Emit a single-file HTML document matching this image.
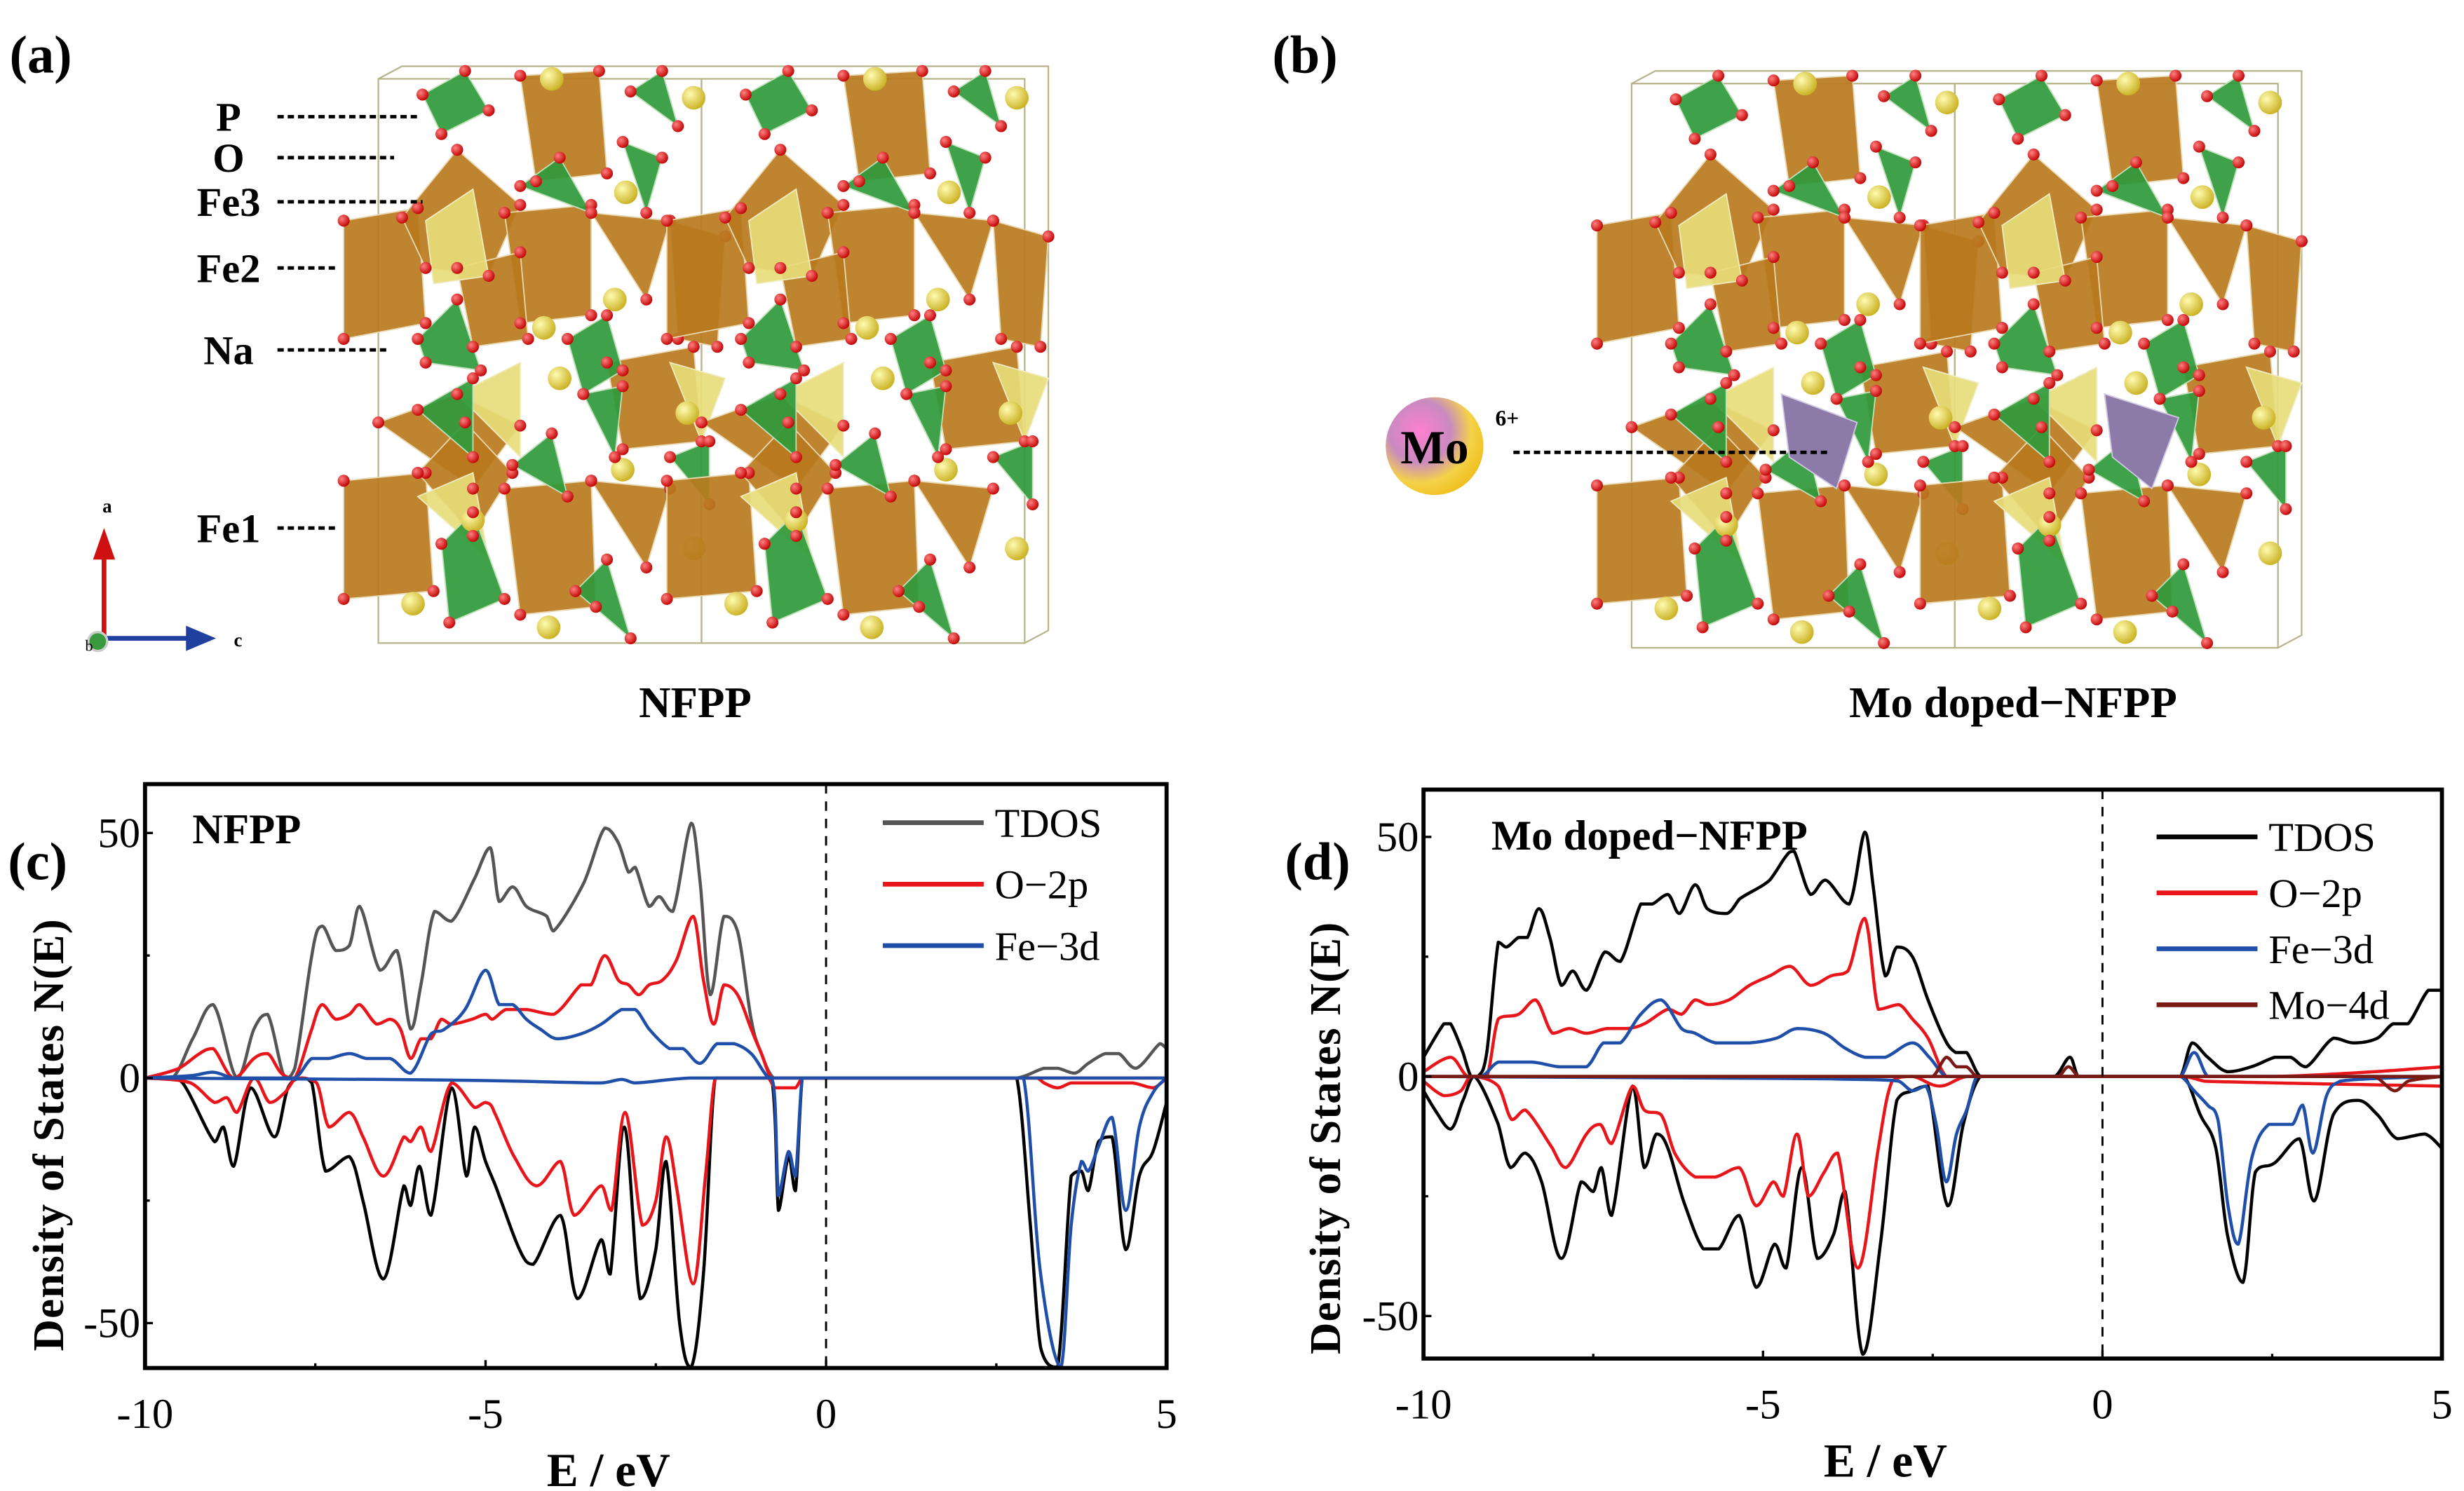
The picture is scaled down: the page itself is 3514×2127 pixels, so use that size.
<!DOCTYPE html>
<html><head><meta charset="utf-8"><style>
html,body{margin:0;padding:0;background:#fff}
svg{display:block}
text{font-family:"Liberation Serif",serif}
</style></head><body>
<svg id="fig" width="3514" height="2127" viewBox="0 0 1563 946" xmlns="http://www.w3.org/2000/svg">
<defs>
<radialGradient id="mo" cx="35%" cy="35%" r="70%"><stop offset="0" stop-color="#ff7fd0"/><stop offset="0.45" stop-color="#c98ac0"/><stop offset="0.75" stop-color="#f5d24a"/><stop offset="1" stop-color="#f0c020"/></radialGradient>
<radialGradient id="na" cx="35%" cy="35%" r="70%"><stop offset="0" stop-color="#fffbb0"/><stop offset="1" stop-color="#c9b020"/></radialGradient>
<radialGradient id="ox" cx="35%" cy="35%" r="70%"><stop offset="0" stop-color="#ff8080"/><stop offset="1" stop-color="#c00000"/></radialGradient>
</defs>
<g id="panelA"></g>
<g id="panelB"></g>
<g id="chartC"></g>
<g id="chartD"></g>
</svg>
<script>
// ---------- DOS data (E in eV, N(E)) ----------
const cTdosUp=[[-10,0],[-9.6,0],[-9.3,8],[-9.0,15],[-8.65,0],[-8.4,10],[-8.2,13],[-7.95,0],[-7.8,2],[-7.55,25],[-7.4,31],[-7.2,26],[-7.0,27],[-6.85,35],[-6.55,22],[-6.3,26],[-6.1,10],[-5.95,19],[-5.75,34],[-5.5,32],[-5.15,41],[-4.93,47],[-4.8,36],[-4.6,39],[-4.4,35],[-4.1,33],[-4.0,30],[-3.55,40],[-3.25,51],[-3.05,48],[-2.9,42],[-2.8,43],[-2.6,35],[-2.45,37],[-2.25,34],[-1.98,52],[-1.85,40],[-1.7,17],[-1.5,33],[-1.3,30],[-1.1,12],[-0.95,5],[-0.77,0],[2.8,0],[3.2,2],[3.4,2],[3.65,1],[3.85,3],[4.1,5],[4.3,5],[4.55,2],[4.9,7],[5,6]];
const cTdosDn=[[-10,0],[-9.6,0],[-9.4,-2],[-8.98,-13],[-8.85,-10],[-8.7,-18],[-8.45,-2],[-8.1,-12],[-7.9,-2],[-7.7,0],[-7.55,-1],[-7.35,-19],[-7.0,-16],[-6.8,-25],[-6.5,-41],[-6.2,-22],[-6.1,-26],[-5.97,-18],[-5.8,-28],[-5.5,-2],[-5.28,-20],[-5.16,-10],[-5.0,-17],[-4.8,-24],[-4.5,-35],[-4.3,-38],[-3.9,-28],[-3.65,-45],[-3.3,-33],[-3.17,-40],[-2.96,-10],[-2.73,-45],[-2.5,-35],[-2.35,-17],[-2.15,-50],[-1.98,-59],[-1.8,-40],[-1.63,0],[-0.8,0],[-0.75,-8],[-0.7,-27],[-0.55,-16],[-0.45,-23],[-0.35,0],[2.8,0],[3.0,-30],[3.15,-55],[3.4,-59],[3.6,-20],[3.75,-19],[3.85,-23],[4.0,-13],[4.2,-12],[4.4,-35],[4.6,-20],[4.8,-15],[5,-5]];
const cO2pUp=[[-10,0],[-9.5,2],[-9.2,5],[-9.0,6],[-8.7,0],[-8.4,4],[-8.2,5],[-8.0,1],[-7.8,0],[-7.55,10],[-7.4,15],[-7.2,12],[-7.0,13],[-6.85,15],[-6.6,11],[-6.4,12],[-6.25,10],[-6.1,4],[-5.95,8],[-5.8,8],[-5.65,12],[-5.5,11],[-5.2,12],[-5.0,13],[-4.9,12],[-4.7,14],[-4.4,14],[-4.0,13],[-3.6,19],[-3.45,19],[-3.25,25],[-3.05,20],[-2.9,19],[-2.75,17],[-2.6,19],[-2.4,20],[-2.2,24],[-1.95,33],[-1.8,20],[-1.65,11],[-1.5,19],[-1.3,17],[-1.1,10],[-0.95,5],[-0.8,0],[5,0]];
const cO2pDn=[[-10,0],[-9.33,-1],[-8.98,-5],[-8.8,-4],[-8.65,-7],[-8.4,0],[-8.17,-5],[-7.95,-3],[-7.77,0],[-7.48,-1],[-7.3,-10],[-7.0,-7],[-6.8,-12],[-6.5,-20],[-6.2,-12],[-6.1,-13],[-5.95,-10],[-5.8,-15],[-5.5,-1],[-5.16,-6],[-5.0,-5],[-4.87,-7],[-4.58,-16],[-4.25,-22],[-3.9,-17],[-3.7,-28],[-3.3,-22],[-3.15,-27],[-2.95,-7],[-2.7,-30],[-2.5,-25],[-2.35,-12],[-2.2,-22],[-1.95,-42],[-1.77,-20],[-1.63,0],[-0.85,0],[-0.75,-2],[-0.45,-2],[-0.35,0],[3.1,0],[3.2,-1],[3.4,-2],[3.6,-1],[4.5,-1],[4.8,-2],[5,0]];
const cFe3dUp=[[-10,0],[-9.3,0.5],[-9.0,1.2],[-8.7,0],[-7.8,0],[-7.55,4],[-7.3,4],[-7.0,5],[-6.75,4],[-6.4,4],[-6.1,1],[-5.8,9],[-5.6,10],[-5.3,14],[-5.0,22],[-4.8,15],[-4.6,15],[-4.4,12],[-4.2,10],[-3.95,8],[-3.6,9],[-3.3,11],[-3.0,14],[-2.8,14],[-2.6,10],[-2.3,6],[-2.1,6],[-1.85,3],[-1.6,7],[-1.35,7],[-1.1,5],[-0.9,1],[-0.8,0],[5,0]];
const cFe3dDn=[[-10,0],[-6.5,-0.3],[-5,-0.5],[-3.3,-1],[-3.0,-0.3],[-2.8,-1],[-2.0,0],[-0.8,0],[-0.75,-5],[-0.7,-24],[-0.55,-15],[-0.45,-20],[-0.35,0],[2.9,0],[3.15,-40],[3.45,-59],[3.6,-30],[3.75,-17],[3.85,-19],[4.0,-14],[4.2,-8],[4.4,-27],[4.6,-10],[4.8,-3],[5,0]];

const dTdosUp=[[-10,4],[-9.7,11],[-9.6,11],[-9.42,5],[-9.3,0],[-9.2,0],[-9.07,5],[-8.9,28],[-8.78,27],[-8.6,29],[-8.47,29],[-8.3,35],[-8.14,29],[-7.97,19],[-7.8,22],[-7.6,18],[-7.33,26],[-7.1,24],[-6.8,36],[-6.63,36],[-6.4,38],[-6.23,34],[-6.0,40],[-5.82,35],[-5.53,34],[-5.35,37],[-4.9,41],[-4.66,46],[-4.54,47],[-4.3,38],[-4.08,41],[-3.73,36],[-3.5,51],[-3.38,40],[-3.2,21],[-3.03,27],[-2.8,25],[-2.57,16],[-2.33,8],[-2.16,5],[-2.0,5],[-1.8,0],[-0.7,0],[-0.48,4],[-0.36,0],[1.15,0],[1.32,7],[1.55,4],[1.84,1],[2.19,2],[2.54,4],[2.77,4],[3.0,2],[3.4,8],[3.7,7],[4.05,8],[4.28,11],[4.5,11],[4.8,18],[5,18]];
const dTdosDn=[[-10,-3],[-9.83,-7],[-9.6,-11],[-9.42,-5],[-9.25,0],[-8.9,-10],[-8.72,-19],[-8.5,-16],[-8.26,-22],[-7.97,-38],[-7.68,-22],[-7.5,-24],[-7.38,-19],[-7.23,-29],[-6.92,-2],[-6.75,-19],[-6.57,-12],[-6.4,-15],[-6.17,-26],[-5.88,-36],[-5.65,-36],[-5.35,-29],[-5.1,-44],[-4.83,-35],[-4.66,-40],[-4.43,-19],[-4.2,-38],[-3.96,-33],[-3.79,-24],[-3.53,-58],[-3.27,-35],[-3.03,-5],[-2.8,-3],[-2.57,-2],[-2.28,-27],[-2.05,-10],[-1.8,0],[1.2,0],[1.44,-8],[1.67,-15],[1.84,-33],[2.07,-43],[2.25,-20],[2.54,-18],[2.9,-13],[3.12,-26],[3.4,-8],[3.76,-5],[4.05,-8],[4.34,-13],[4.75,-12],[5,-15]];
const dO2pUp=[[-10,1],[-9.6,4],[-9.35,0],[-9.07,0],[-8.9,12],[-8.6,13],[-8.35,16],[-8.1,9],[-7.85,10],[-7.6,9],[-7.3,10],[-7.0,10],[-6.75,11],[-6.4,14],[-6.2,13],[-6.0,16],[-5.8,15],[-5.5,16],[-5.2,19],[-4.9,21],[-4.6,23],[-4.3,19],[-4.0,21],[-3.75,22],[-3.5,33],[-3.3,14],[-3.0,15],[-2.8,12],[-2.57,8],[-2.3,0],[2.5,0],[4,1],[5,2]];
const dO2pDn=[[-10,-1],[-9.7,-4],[-9.45,-3],[-9.3,0],[-8.9,-2],[-8.7,-9],[-8.5,-7],[-8.1,-15],[-7.9,-19],[-7.6,-12],[-7.4,-10],[-7.23,-14],[-6.92,-2],[-6.75,-7],[-6.5,-8],[-6.3,-16],[-6.0,-21],[-5.7,-21],[-5.35,-19],[-5.1,-27],[-4.85,-22],[-4.7,-25],[-4.5,-12],[-4.33,-25],[-4.1,-20],[-3.9,-16],[-3.6,-40],[-3.3,-15],[-3.1,-1],[-2.8,0],[-2.4,-2],[-2.0,0],[1.2,0],[1.5,-1],[5,-2]];
const dFe3dUp=[[-10,0],[-9.15,0],[-8.9,3],[-8.4,3],[-8.0,2],[-7.6,2],[-7.35,7],[-7.1,7],[-6.8,13],[-6.5,16],[-6.2,10],[-6.0,9],[-5.7,7],[-5.2,7],[-4.8,8],[-4.5,10],[-4.1,9],[-3.8,6],[-3.5,4],[-3.2,4],[-2.8,7],[-2.55,4],[-2.3,0],[1.15,0],[1.35,5],[1.55,0],[5,0]];
const dFe3dDn=[[-10,0],[-4,-0.5],[-3.0,-1],[-2.8,-3],[-2.6,-2],[-2.45,-10],[-2.3,-22],[-2.15,-12],[-2.0,-7],[-1.85,0],[1.15,0],[1.35,-3],[1.55,-6],[1.7,-9],[1.85,-27],[2.0,-35],[2.2,-17],[2.45,-10],[2.8,-10],[2.95,-6],[3.1,-16],[3.3,-4],[3.5,-1],[5,0]];
const dMo4dUp=[[-10,0],[-2.5,0],[-2.3,4],[-2.15,2],[-2.0,2],[-1.85,0],[-0.65,0],[-0.5,2],[-0.35,0],[5,0]];
const dMo4dDn=[[-10,0],[4.0,0],[4.3,-3],[4.5,-1],[5,0]];

const xTicks=[-10,-5,0,5];
const xMinor=[-7.5,-2.5,2.5];
const yTicks=[-50,0,50];
const legendC=["TDOS","O\u22122p","Fe\u22123d"];
const legendD=["TDOS","O\u22122p","Fe\u22123d","Mo\u22124d"];

const NS="http://www.w3.org/2000/svg";
function mk(parent,tag,attrs,txt){const e=document.createElementNS(NS,tag);for(const k in attrs)e.setAttribute(k,attrs[k]);if(txt!==undefined)e.textContent=txt;parent.appendChild(e);return e;}

function smoothPath(pts){
  let d='M'+pts[0][0].toFixed(1)+','+pts[0][1].toFixed(1);
  const cl=(v,a,b)=>Math.max(Math.min(a,b),Math.min(Math.max(a,b),v));
  for(let i=0;i<pts.length-1;i++){
    const p0=pts[Math.max(0,i-1)],p1=pts[i],p2=pts[i+1],p3=pts[Math.min(pts.length-1,i+2)];
    const t=0.18;
    const seg=p2[0]-p1[0];
    let c1x=p1[0]+Math.min((p2[0]-p0[0])*t,seg*0.4), c1y=cl(p1[1]+(p2[1]-p0[1])*t,p1[1],p2[1]);
    let c2x=p2[0]-Math.min((p3[0]-p1[0])*t,seg*0.4), c2y=cl(p2[1]-(p3[1]-p1[1])*t,p1[1],p2[1]);
    d+='C'+c1x.toFixed(1)+','+c1y.toFixed(1)+' '+c2x.toFixed(1)+','+c2y.toFixed(1)+' '+p2[0].toFixed(1)+','+p2[1].toFixed(1);
  }
  return d;
}

function chart(g,cfg,series,legend){
  const sx=v=>cfg.L+(v-(-10))/15*(cfg.R-cfg.L);
  const sy=v=>cfg.Y0-v*cfg.k;
  const cid='clip'+cfg.panel.charAt(1);
  const clip=mk(g,'clipPath',{id:cid});
  mk(clip,'rect',{x:cfg.L,y:cfg.T,width:cfg.R-cfg.L,height:cfg.B-cfg.T});
  const sg=mk(g,'g',{'clip-path':'url(#'+cid+')'});
  series.forEach(s=>{
    const p=mk(sg,'path',{d:smoothPath(s.data.map(d=>[sx(d[0]),sy(d[1])])),fill:'none',stroke:s.color,'stroke-width':2,'stroke-linejoin':'round'});
    
    
  });
  const fl=mk(g,'line',{x1:sx(0),x2:sx(0),y1:cfg.T,y2:cfg.B,stroke:'#000','stroke-width':1.3,'stroke-dasharray':'6,5'});
  
  
  const fr=mk(g,'rect',{x:cfg.L,y:cfg.T,width:cfg.R-cfg.L,height:cfg.B-cfg.T,fill:'none',stroke:'#000','stroke-width':2.6});
  
  
  xTicks.forEach(v=>{
    mk(g,'line',{x1:sx(v),x2:sx(v),y1:cfg.B,y2:cfg.B-5,stroke:'#000','stroke-width':1.5});
    const t=mk(g,'text',{x:sx(v),y:cfg.B+38,'font-size':27,'text-anchor':'middle'},v);
    
    
  });
  xMinor.forEach(v=>{mk(g,'line',{x1:sx(v),x2:sx(v),y1:cfg.B,y2:cfg.B-3,stroke:'#000','stroke-width':1.5});});
  yTicks.forEach(v=>{
    mk(g,'line',{x1:cfg.L,x2:cfg.L+5,y1:sy(v),y2:sy(v),stroke:'#000','stroke-width':1.5});
    const t=mk(g,'text',{x:cfg.L-3,y:sy(v)+9,'font-size':27,'text-anchor':'end'},v);
    
    
  });
  [25,-25].forEach(v=>mk(g,'line',{x1:cfg.L,x2:cfg.L+3,y1:sy(v),y2:sy(v),stroke:'#000','stroke-width':1.5}));
  const xt=mk(g,'text',{x:(cfg.L+cfg.R)/2-30,y:cfg.B+75,'font-size':30,'font-weight':'bold','text-anchor':'middle'},'E / eV');
  
  
  const yt=mk(g,'text',{x:0,y:0,'font-size':28,'font-weight':'bold','text-anchor':'middle','letter-spacing':0.5,transform:`translate(${cfg.ytx},${cfg.yty}) rotate(-90)`},'Density of States N(E)');
  
  
  const pl=mk(g,'text',{x:cfg.plx,y:cfg.ply,'font-size':34,'font-weight':'bold'},cfg.panel);
  
  
  const tl=mk(g,'text',{x:cfg.tx,y:cfg.ty,'font-size':27,'font-weight':'bold'},cfg.title);
  
  
  legend.forEach((name,i)=>{
    const y=cfg.legY+i*cfg.legDy;
    const le=mk(g,'g',{});
    
    
    mk(le,'line',{x1:cfg.legX,x2:cfg.legX+64,y1:y,y2:y,stroke:series[i*2].color,'stroke-width':3});
    mk(le,'text',{x:cfg.legX+71,y:y+9,'font-size':26},name);
  });
}
const cfgC={L:92,R:740,T:497.5,B:868,Y0:684,k:3.11,ytx:40,yty:720,plx:5,ply:558,panel:'(c)',tx:122,ty:535,title:'NFPP',legX:560,legY:522,legDy:39};
const cfgD={L:903,R:1549,T:501,B:862,Y0:683,k:3.04,ytx:850,yty:722,plx:815,ply:558,panel:'(d)',tx:946,ty:539,title:'Mo doped\u2212NFPP',legX:1368,legY:531,legDy:35.5};
chart(document.getElementById('chartC'),cfgC,[
 {data:cTdosUp,color:'#555555',name:'tdos-up-line'},{data:cTdosDn,color:'#000000',name:'tdos-down-line'},
 {data:cO2pUp,color:'#e8161b',name:'o2p-up-line'},{data:cO2pDn,color:'#e8161b',name:'o2p-down-line'},
 {data:cFe3dUp,color:'#1f4fa8',name:'fe3d-up-line'},{data:cFe3dDn,color:'#1f4fa8',name:'fe3d-down-line'}],legendC);
chart(document.getElementById('chartD'),cfgD,[
 {data:dTdosUp,color:'#000000',name:'tdos-up-line'},{data:dTdosDn,color:'#000000',name:'tdos-down-line'},
 {data:dO2pUp,color:'#e8161b',name:'o2p-up-line'},{data:dO2pDn,color:'#e8161b',name:'o2p-down-line'},
 {data:dFe3dUp,color:'#1f4fa8',name:'fe3d-up-line'},{data:dFe3dDn,color:'#1f4fa8',name:'fe3d-down-line'},
 {data:dMo4dUp,color:'#7a1a14',name:'mo4d-up-line'},{data:dMo4dDn,color:'#7a1a14',name:'mo4d-down-line'}],legendD);

// ---------- Crystal structure motif ----------
const brown=[[[218,140],[265,132],[270,205],[218,215]],[[255,138],[290,95],[330,130],[310,175],[270,170]],[[330,48],[380,45],[385,110],[340,115]],[[320,135],[375,130],[375,200],[330,205]],[[375,135],[425,140],[410,190]],[[425,140],[460,150],[455,220],[430,215]],[[240,268],[290,250],[330,270],[300,310]],[[218,305],[270,300],[275,375],[218,380]],[[265,300],[295,268],[325,300],[300,340]],[[320,310],[375,305],[378,385],[330,390]],[[375,305],[425,310],[410,360]],[[385,230],[440,220],[445,280],[395,285]],[[290,170],[330,160],[335,215],[300,220]]];
const green=[[[268,60],[295,45],[310,70],[280,85]],[[330,118],[355,100],[375,135]],[[400,58],[420,45],[430,80]],[[265,215],[290,190],[305,235],[270,230]],[[265,260],[300,240],[300,290]],[[360,215],[385,200],[395,235],[370,250]],[[370,250],[395,245],[390,290]],[[325,295],[350,275],[360,315]],[[280,345],[300,325],[320,380],[285,395]],[[365,375],[385,355],[400,405]],[[425,290],[450,280],[450,320]],[[395,90],[420,100],[410,135]]];
const yellowPoly=[[[270,140],[300,120],[310,175],[275,180]],[[290,250],[330,230],[330,290]],[[265,315],[300,300],[310,355]],[[425,230],[460,240],[445,280]]];
const naPos=[[350,50],[440,62],[397,122],[390,190],[345,208],[355,240],[395,298],[262,383],[348,398],[300,330],[440,348],[436,262]];

function structure(g,dx,dy,doped){
  const fr=mk(g,'g',{fill:'none',stroke:'#b8b48a','stroke-width':1});
  
  
  mk(fr,'rect',{x:240+dx,y:50+dy,width:205,height:358});
  mk(fr,'rect',{x:445+dx,y:50+dy,width:205,height:358});
  mk(fr,'polyline',{points:`${240+dx},${50+dy} ${255+dx},${42+dy} ${665+dx},${42+dy} ${665+dx},${400+dy} ${650+dx},${408+dy}`});
  for(let c=0;c<2;c++){
    const ox=dx+c*205;
    const poly=(arr,fill,stroke,nm)=>arr.forEach(p=>{
      const e=mk(g,'polygon',{points:p.map(q=>(q[0]+ox)+','+(q[1]+dy)).join(' '),fill:fill,stroke:stroke,'stroke-width':0.8,'fill-opacity':0.92});
      
      
    });
    poly(brown,'#b97a1e','#e8d8b0','fe-octahedron');
    poly(yellowPoly,'#e7dc7a','#f0ecc0','yellow-polyhedron');
    poly(green,'#2f9a3c','#bfe0b8','p-tetrahedron');
    naPos.forEach(p=>{
      const e=mk(g,'circle',{cx:p[0]+ox,cy:p[1]+dy,r:7.5,fill:'url(#na)'});
      
      
    });
    [...brown,...green].forEach(p=>p.forEach(q=>{
      const e=mk(g,'circle',{cx:q[0]+ox,cy:q[1]+dy,r:3.8,fill:'url(#ox)'});
      
      
    }));
  }
  if(doped){
    [[[1130,250],[1178,268],[1165,310],[1135,290]],[[1335,250],[1382,265],[1365,310],[1340,290]]].forEach(p=>{
      const e=mk(g,'polygon',{points:p.map(q=>q.join(',')).join(' '),fill:'#8c7aa8',stroke:'#d0c8e0','stroke-width':0.8});
      
      
    });
  }
}
const A=document.getElementById('panelA'), B=document.getElementById('panelB');
structure(A,0,0,false);
structure(B,795,3,true);

function txt(g,x,y,s,size,name,extra){const t=mk(g,'text',Object.assign({x:x,y:y,'font-size':size,'font-weight':'bold'},extra||{}),s);return t;}
txt(A,6,46,'(a)',34,'panel-label');
txt(B,807,46,'(b)',34,'panel-label');
const labels=[['P',74,265],['O',100,250],['Fe3',128,268],['Fe2',170,215],['Na',222,245],['Fe1',335,215]];
labels.forEach(l=>{
  txt(A,145,l[1]+9,l[0],26,'atom-label',{'text-anchor':'middle'});
  const d=mk(A,'line',{x1:176,x2:l[2],y1:l[1],y2:l[1],stroke:'#000','stroke-width':2.2,'stroke-dasharray':'4,2.5'});
  
  
});
txt(A,441,455,'NFPP',28,'structure-title',{'text-anchor':'middle'});
txt(B,1277,455,'Mo doped\u2212NFPP',28,'structure-title',{'text-anchor':'middle'});
const ax=mk(A,'g',{});
mk(ax,'line',{x1:66,y1:405,x2:66,y2:352,stroke:'#d01010','stroke-width':3});
mk(ax,'polygon',{points:'59,355 73,355 66,335',fill:'#d01010'});
mk(ax,'line',{x1:66,y1:405,x2:120,y2:405,stroke:'#2040a0','stroke-width':3});
mk(ax,'polygon',{points:'118,397 118,413 137,405',fill:'#2040a0'});
mk(ax,'circle',{cx:62,cy:407,r:6,fill:'#3a9a40',stroke:'#ccc','stroke-width':1.5});
mk(ax,'text',{x:68,y:325,'font-size':12,'font-weight':'bold','font-family':'Liberation Sans','text-anchor':'middle'},'a');
mk(ax,'text',{x:151,y:410,'font-size':12,'font-weight':'bold','font-family':'Liberation Sans','text-anchor':'middle'},'c');
mk(ax,'text',{x:54,y:413,'font-size':10,'font-family':'Liberation Sans'},'b');
const mo=mk(B,'g',{});
mk(mo,'circle',{cx:910,cy:283,r:31,fill:'url(#mo)'});
mk(mo,'text',{x:910,y:294,'font-size':30,'font-weight':'bold','text-anchor':'middle'},'Mo');
mk(mo,'text',{x:956,y:270,'font-size':14,'font-weight':'bold','text-anchor':'middle'},'6+');
mk(mo,'line',{x1:960,x2:1160,y1:287,y2:287,stroke:'#000','stroke-width':2.2,'stroke-dasharray':'4,2.5'});
</script>
</body></html>
